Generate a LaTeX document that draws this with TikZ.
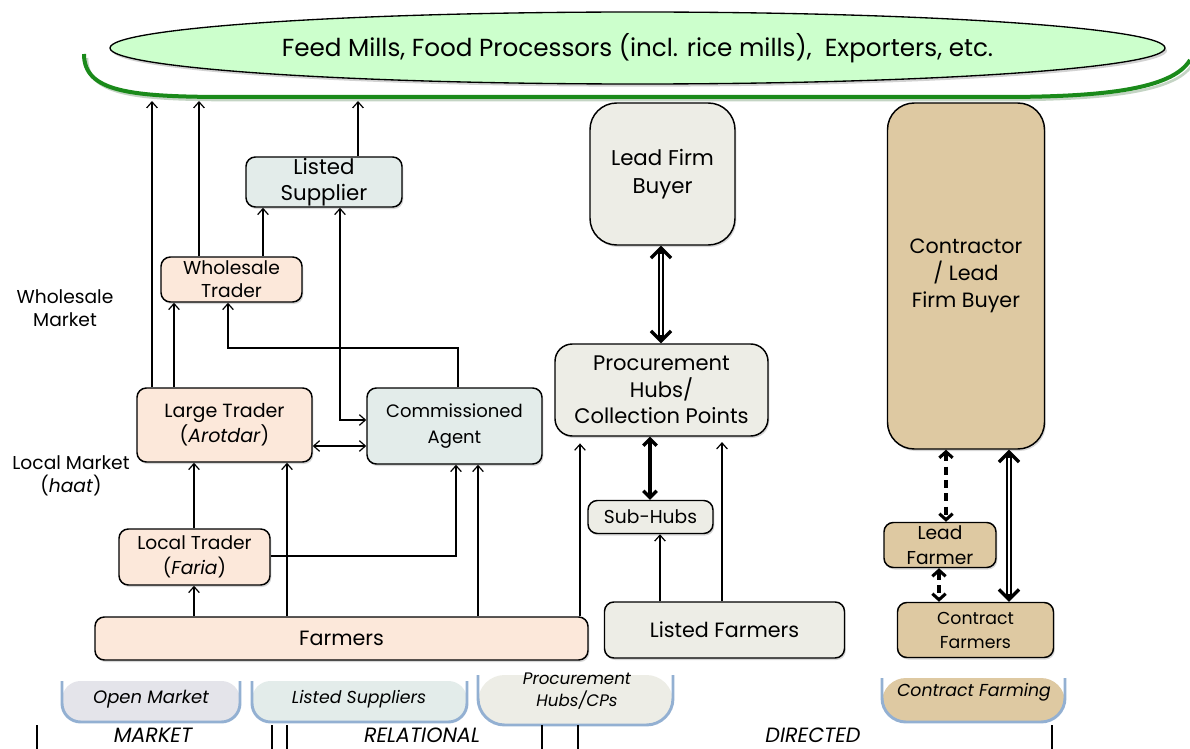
\documentclass[tikz,border=0pt]{standalone}
\usepackage{fontspec}
\setmainfont{Poppins}
\usetikzlibrary{arrows.meta,shadows,shapes.geometric}
\definecolor{peach}{HTML}{FCE8DA}
\definecolor{mist}{HTML}{E3ECEA}
\definecolor{stone}{HTML}{EDEDE6}
\definecolor{tan}{HTML}{DEC9A2}
\definecolor{mint}{HTML}{CCFFCC}
\definecolor{leaf}{HTML}{1A8A1A}
\definecolor{tabedge}{HTML}{93B0D2}
\definecolor{lav}{HTML}{E4E4EA}
\begin{document}
\begin{tikzpicture}[x=0.75pt,y=-0.75pt,
  sz/.style 2 args={minimum width=#1*0.75pt, minimum height=#2*0.75pt},
  fs/.style 2 args={font={\fontsize{#1}{#2}\selectfont}},
  box/.style={draw=black, line width=1.1pt, rounded corners=7pt, align=center,
    inner sep=0pt, fs={13}{19},
    drop shadow={opacity=0.3, shadow xshift=1pt, shadow yshift=-1.5pt}},
  bigbox/.style={box, rounded corners=20pt},
  midbox/.style={box, rounded corners=13pt},
  arr/.style={line width=0.9pt, -{Straight Barb[length=4.5pt,width=8pt]}},
  arrboth/.style={line width=0.9pt, {Straight Barb[length=4.5pt,width=8pt]}-{Straight Barb[length=4.5pt,width=8pt]}},
  thickarr/.style={line width=2.5pt, {Straight Barb[length=5pt,width=10pt]}-{Straight Barb[length=5pt,width=10pt]}},
  dblarr/.style={line width=3.8pt,
    {Straight Barb[length=7.5pt,width=15pt,line width=2.5pt]}-{Straight Barb[length=7.5pt,width=15pt,line width=2.5pt]},
    postaction={draw=white, line width=1.2pt, arrows=-, shorten <=6pt, shorten >=6pt}},
  dasharr/.style={line width=2.3pt, dash pattern=on 6pt off 4pt,
    {Straight Barb[length=4.5pt,width=10pt]}-{Straight Barb[length=4.5pt,width=10pt]}},
  tabline/.style={draw=tabedge, line width=2.2pt},
  tabtext/.style={font={\fontsize{13.5}{16}\selectfont\itshape}, align=center},
  side/.style={fs={14}{17.5}, align=center},
  kind/.style={font={\fontsize{15.5}{18}\selectfont\itshape}, anchor=base,
    inner sep=0pt, text depth=0pt},
  bar/.style={line width=2pt}]

\useasboundingbox[fill=white] (0,0) rectangle (1190,749);

% buyers at the top of the chain
\draw[leaf!40!gray, line width=2pt, opacity=0.35]
  (87,58) .. controls (87,94) and (130,100) .. (230,100) -- (1000,100)
  .. controls (1100,100) and (1175,93) .. (1192,65);
\draw[leaf, line width=3pt]
  (84,54) .. controls (84,92) and (130,97) .. (230,97) -- (1000,97)
  .. controls (1100,97) and (1172,90) .. (1190,60);
\node[ellipse, draw=black, line width=1pt, fill=mint, sz={1055}{72},
  drop shadow={opacity=0.35, shadow xshift=1.5pt, shadow yshift=-2pt},
  fs={18.5}{22}] (buyers) at (637.5,48)
  {Feed Mills, Food Processors (incl. rice mills),\ \ Exporters, etc.};
\coordinate (e152) at (152,101);
\coordinate (e199) at (199,101);
\coordinate (e358) at (358,101);

% market and relational channels
\node[box, fill=mist, sz={156}{50}, fs={16}{19}] (ls) at (324,182) {Listed\\Supplier};
\node[box, fill=peach, sz={141}{45}, fs={14}{17.5}] (wt) at (231.5,279.5) {Wholesale\\Trader};
\node[box, fill=peach, sz={175}{74}, fs={14.3}{19}] (lt) at (224.5,425) {Large Trader\\(\textit{Arotdar})};
\node[box, fill=mist, sz={175}{76}, fs={13.5}{19}] (ca) at (454.5,426) {Commissioned\\Agent};
\node[box, fill=peach, sz={151}{56}, fs={14}{19}] (loc) at (194.5,557) {Local Trader\\(\textit{Faria})};
\node[box, fill=peach, sz={493}{43}, fs={15.5}{19}] (farm) at (341.5,638.5) {Farmers};

% directed channels
\node[bigbox, fill=stone, sz={145}{142}, fs={16}{21}] (lfb) at (662.5,174) {Lead Firm\\Buyer};
\node[midbox, fill=stone, sz={213}{92}, fs={15.8}{20}] (ph) at (661.5,390) {Procurement\\Hubs/\\Collection Points};
\node[box, fill=stone, sz={125}{33}, fs={14}{16}] (sh) at (650.5,517) {Sub-Hubs};
\node[box, fill=stone, sz={240}{56}, fs={15.5}{19}] (lf) at (724.5,630) {Listed Farmers};
\node[bigbox, fill=tan, sz={157}{346}, fs={15.5}{20}] (con) at (966,276) {Contractor\\/ Lead\\Firm Buyer};
\node[box, fill=tan, sz={112}{45}, fs={14}{18.5}] (lfm) at (940,545) {Lead\\Farmer};
\node[box, fill=tan, sz={156}{55}, fs={13}{18}] (cf) at (975.5,630) {Contract\\Farmers};

% side labels
\node[side] (wm) at (65,308) {Wholesale\\Market};
\node[side] (lm) at (71,476) {Local Market\\(\textit{haat})};

% flows towards the buyers
\draw[arr] (lt.north -| 152,0) -- (e152);
\draw[arr] (wt.north -| 199,0) -- (e199);
\draw[arr] (ls.north -| 358,0) -- (e358);
\draw[arr] (wt.north -| 263,0) -- (ls.south -| 263,0);
\draw[arr] (lt.north -| 174,0) -- (wt.south -| 174,0);
\draw[arr] (ca.north -| 458,0) |- (228,348) -- (wt.south -| 228,0);
\draw[arrboth] (ls.south -| 340,0) |- (ca.west |- 0,420);
\draw[arrboth] (lt.east |- 0,446) -- (ca.west |- 0,446);
\draw[arr] (loc.north -| 194,0) -- (lt.south -| 194,0);
\draw[arr] (farm.north -| 194,0) -- (loc.south -| 194,0);
\draw[arr] (farm.north -| 287,0) -- (lt.south -| 287,0);
\draw[arr] (loc.east |- 0,556) -| (ca.south -| 456,0);
\draw[arr] (farm.north -| 478,0) -- (ca.south -| 478,0);
\draw[arr, shorten >=5pt] (farm.north -| 580,0) -- (ph.south -| 580,0);

\draw[dblarr] (lfb.south -| 661,0) -- (ph.north -| 661,0);
\draw[thickarr] (ph.south -| 650,0) -- (sh.north -| 650,0);
\draw[arr] (lf.north -| 660,0) -- (sh.south -| 660,0);
\draw[arr, shorten >=4pt] (lf.north -| 722,0) -- (ph.south -| 722,0);

\draw[dasharr] (con.south -| 946,0) -- (lfm.north -| 946,0);
\draw[dasharr] (lfm.south -| 939,0) -- (cf.north -| 939,0);
\draw[dblarr] (con.south -| 1009,0) -- (cf.north -| 1009,0);

% channel tabs
\fill[lav, rounded corners=14pt] (62,681) -- (62,722) -- (240,722) -- (240,681) -- cycle;
\draw[tabline, rounded corners=14pt] (62,681) -- (62,722) -- (240,722) -- (240,681);
\node[tabtext] (tOpen) at (151,699) {Open Market};
\fill[mist, rounded corners=14pt] (252,681) -- (252,722) -- (467,722) -- (467,681) -- cycle;
\draw[tabline, rounded corners=14pt] (252,681) -- (252,722) -- (467,722) -- (467,681);
\node[tabtext, font={\fontsize{13}{16}\selectfont\itshape}] (tListed) at (359,699) {Listed Suppliers};
\fill[stone, rounded corners=20pt] (478,675) -- (478,725) -- (673,725) -- (673,675) -- cycle;
\draw[tabline, rounded corners=20pt] (478,675) -- (478,725) -- (673,725) -- (673,675);
\node[tabtext, font={\fontsize{12.5}{16}\selectfont\itshape}] (tProc) at (577,691) {Procurement\\Hubs/CPs};
\fill[tan, rounded corners=18pt] (882,678) -- (882,722) -- (1065,722) -- (1065,678) -- cycle;
\draw[tabline, rounded corners=18pt] (882,678) -- (882,722) -- (1065,722) -- (1065,678);
\node[tabtext, font={\fontsize{13}{16}\selectfont\itshape}] (tContract) at (974,692) {Contract Farming};

% governance types
\node[kind] (kMarket) at (153,742) {MARKET};
\node[kind] (kRel) at (422,742) {RELATIONAL};
\node[kind] (kDir) at (813,742) {DIRECTED};
\draw[bar] (37,725) -- (37,749);
\draw[bar] (272,725) -- (272,749);
\draw[bar] (287,725) -- (287,749);
\draw[bar] (542,725) -- (542,749);
\draw[bar] (578,725) -- (578,749);
\draw[bar] (1052,725) -- (1052,749);
\end{tikzpicture}
\end{document}
